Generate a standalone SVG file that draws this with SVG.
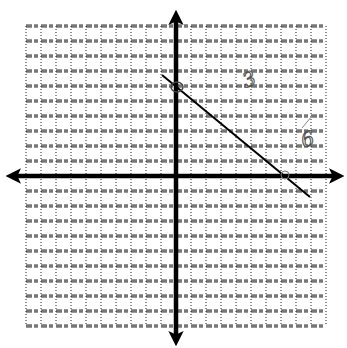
<svg xmlns="http://www.w3.org/2000/svg" width="347" height="348" viewBox="0 0 347 348">
<style>
.h{stroke:#777;stroke-width:3.5;stroke-dasharray:6 2 4 3;fill:none}
.v{stroke:#222;stroke-width:1;stroke-dasharray:1 2;fill:none}
.ax{stroke:#000;stroke-width:4.5;fill:none}
.lbl{font-family:"DejaVu Serif",serif;font-style:italic;font-size:20px;fill:#fff;stroke:#555;stroke-width:1.1}
</style>
<defs>
<marker id="ah" markerWidth="3.4" markerHeight="3.4" refX="2" refY="1.7" orient="auto" markerUnits="strokeWidth">
<path d="M0,0 L3.4,1.7 L0,3.4 L0.8,1.7 Z" fill="#000"/>
</marker>
</defs>
<rect width="347" height="348" fill="#fff"/>
<g id="grid">
<path class="h" d="M26,26H326M26,41H326M26,56H326M26,71H326M26,86H326M26,101H326M26,116H326M26,131H326M26,146H326M26,161H326M26,191H326M26,206H326M26,221H326M26,236H326M26,251H326M26,266H326M26,281H326M26,296H326M26,311H326M26,326H326"/>
<path class="v" d="M26,26V326M41,26V326M56,26V326M71,26V326M86,26V326M101,26V326M116,26V326M131,26V326M146,26V326M161,26V326M191,26V326M206,26V326M221,26V326M236,26V326M251,26V326M266,26V326M281,26V326M296,26V326M311,26V326M326,26V326"/>
</g>
<g id="axes">
<line class="ax" x1="176" y1="176" x2="176" y2="16" marker-end="url(#ah)"/>
<line class="ax" x1="176" y1="176" x2="176" y2="340" marker-end="url(#ah)"/>
<line class="ax" x1="176" y1="176" x2="12" y2="176" marker-end="url(#ah)"/>
<line class="ax" x1="176" y1="176" x2="338" y2="176" marker-end="url(#ah)"/>
</g>
<g id="connectors">
<line x1="162" y1="75" x2="310" y2="197" stroke="#000" stroke-width="2"/>
</g>
<g id="point-y">
<ellipse cx="177" cy="87" rx="6" ry="5" fill="none" stroke="#444" stroke-width="1.5"/>
</g>
<g id="point-x">
<ellipse cx="285" cy="175" rx="4" ry="4" fill="none" stroke="#777" stroke-width="1"/>
</g>
<g id="label-3">
<text class="lbl" x="243" y="86" transform="rotate(-20 250 80)">3</text>
</g>
<g id="label-6">
<text class="lbl" x="301" y="146" transform="rotate(-15 308 138)">6</text>
<path d="M302,128 L312,116" stroke="#888" stroke-width="1" fill="none"/>
</g>
</svg>
